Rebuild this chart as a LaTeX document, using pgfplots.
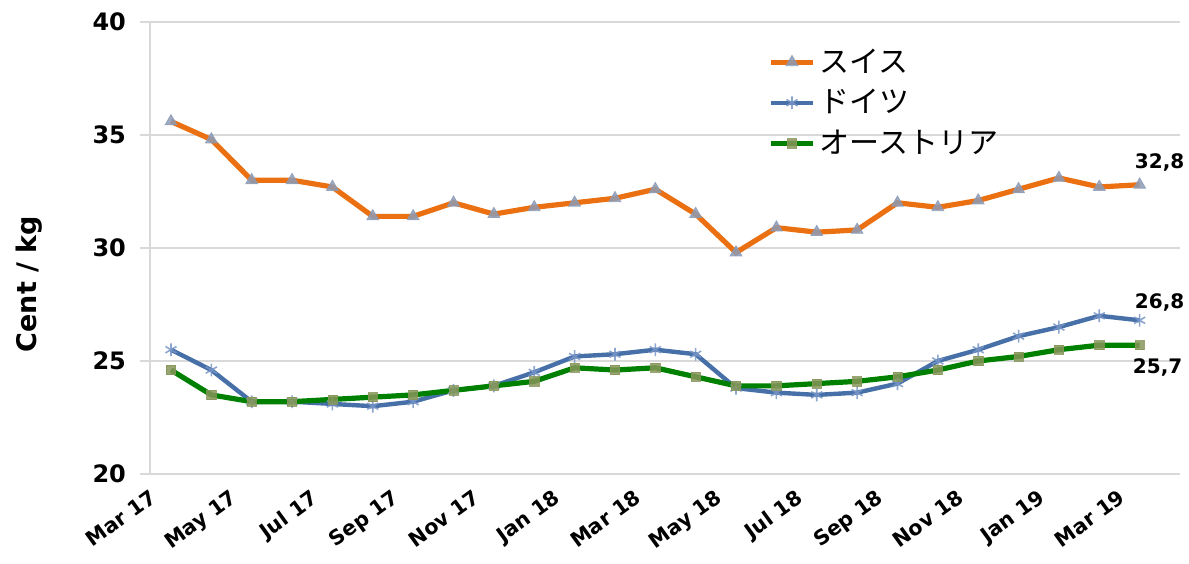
\documentclass[border=0pt]{standalone}
\usepackage{fontspec}
\setmainfont{DejaVu Sans}
\newfontfamily\jp{Noto Sans CJK JP}
\usepackage{pgfplots}
\pgfplotsset{compat=1.18}
\definecolor{cOr}{RGB}{234,112,18}
\definecolor{cBl}{RGB}{72,112,168}
\definecolor{cGr}{RGB}{0,128,0}
\definecolor{mkOr}{RGB}{140,155,182}
\definecolor{mkBl}{RGB}{120,150,200}
\definecolor{mkGr}{RGB}{135,150,90}
\definecolor{grd}{RGB}{217,217,217}
\begin{document}
\begin{tikzpicture}
\begin{axis}[
  name=ax, at={(0,0)}, anchor=south west,
  scale only axis, width=515pt, height=226pt,
  xmin=-0.52, xmax=25, ymin=20, ymax=40,
  ytick={20,25,30,35,40},
  xtick={0,2,...,24},
  xticklabels={Mar 17,May 17,Jul 17,Sep 17,Nov 17,Jan 18,Mar 18,May 18,Jul 18,Sep 18,Nov 18,Jan 19,Mar 19},
  axis x line*=bottom, axis y line*=left,
  axis line style={grd, line width=1.2pt},
  x axis line style={-}, y axis line style={-},
  ymajorgrids, grid style={grd, line width=1.2pt},
  major y tick style={grd, line width=1.2pt}, major tick length=5pt, tick align=outside,
  major x tick style={draw=none},
  /pgf/number format/assume math mode=true,
  yticklabel style={font=\bfseries\fontsize{12}{14}\selectfont, xshift=-3.5pt},
  xticklabel style={xshift=-11pt, yshift=-2pt, font=\bfseries\fontsize{10.3}{12}\selectfont, rotate=36, anchor=north east, inner sep=0pt},
  ylabel={Cent / kg},
  ylabel style={font=\bfseries\fontsize{13.5}{15}\selectfont, at={(axis description cs:-0.117,0.42)}, anchor=center},
  clip=false,
  legend style={draw=none, fill=none, at={(0.6,0.95)}, anchor=north west,
    font=\jp\fontsize{15}{18}\selectfont, row sep=3pt, inner sep=0pt},
  legend cell align=left,
  legend image code/.code={\draw[mark repeat=2,mark phase=2,#1] plot coordinates {(0pt,0pt) (10.5pt,0pt) (21pt,0pt)};},
]
\addplot[cOr, line width=2.6pt, mark=triangle*, mark size=3.4pt, mark options={fill=mkOr, draw=mkOr, line width=0.4pt, opacity=0.85}]
coordinates {(0,35.6)(1,34.8)(2,33.0)(3,33.0)(4,32.7)(5,31.4)(6,31.4)(7,32.0)(8,31.5)(9,31.8)(10,32.0)(11,32.2)(12,32.6)(13,31.5)(14,29.8)(15,30.9)(16,30.7)(17,30.8)(18,32.0)(19,31.8)(20,32.1)(21,32.6)(22,33.1)(23,32.7)(24,32.8)};
\addlegendentry{スイス}
\addplot[cBl, line width=2.2pt, mark=asterisk, mark size=3.2pt, mark options={draw=mkBl, line width=0.8pt, opacity=0.85}]
coordinates {(0,25.5)(1,24.6)(2,23.2)(3,23.2)(4,23.1)(5,23.0)(6,23.2)(7,23.7)(8,23.9)(9,24.5)(10,25.2)(11,25.3)(12,25.5)(13,25.3)(14,23.8)(15,23.6)(16,23.5)(17,23.6)(18,24.0)(19,25.0)(20,25.5)(21,26.1)(22,26.5)(23,27.0)(24,26.8)};
\addlegendentry{ドイツ}
\addplot[cGr, line width=2.6pt, mark=square*, mark size=2.3pt, mark options={fill=mkGr, draw=mkGr, line width=0.3pt, opacity=0.85}]
coordinates {(0,24.6)(1,23.5)(2,23.2)(3,23.2)(4,23.3)(5,23.4)(6,23.5)(7,23.7)(8,23.9)(9,24.1)(10,24.7)(11,24.6)(12,24.7)(13,24.3)(14,23.9)(15,23.9)(16,24.0)(17,24.1)(18,24.3)(19,24.6)(20,25.0)(21,25.2)(22,25.5)(23,25.7)(24,25.7)};
\addlegendentry{オーストリア}
\node[font=\bfseries\fontsize{10}{12}\selectfont] at ([xshift=10pt,yshift=11pt]axis cs:24,32.8) {32,8};
\node[font=\bfseries\fontsize{10}{12}\selectfont] at ([xshift=10pt,yshift=9pt]axis cs:24,26.8) {26,8};
\node[font=\bfseries\fontsize{10}{12}\selectfont] at ([xshift=9pt,yshift=-11pt]axis cs:24,25.7) {25,7};
\end{axis}
\pgfresetboundingbox
\path[use as bounding box] (-75pt,-44.5pt) rectangle (519.5pt,237pt);
\end{tikzpicture}
\end{document}
